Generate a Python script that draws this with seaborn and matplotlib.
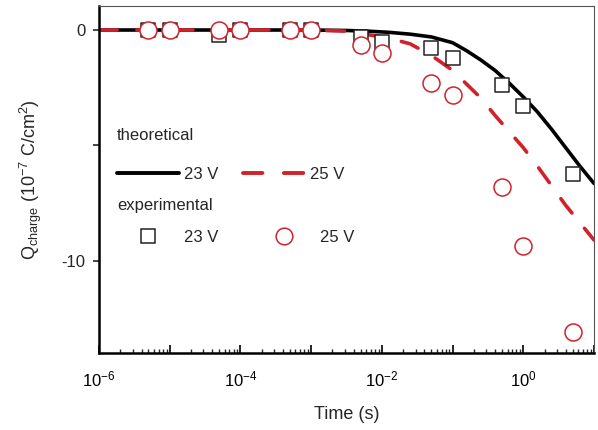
import numpy as np
import pandas as pd
import matplotlib
matplotlib.use("Agg")
import matplotlib.pyplot as plt
import matplotlib.ticker as mticker
from matplotlib.lines import Line2D
import seaborn as sns

EXP_TIME = [5e-6, 1e-5, 5e-5, 1e-4, 5e-4, 1e-3, 5e-3, 1e-2, 5e-2, 1e-1, 0.5, 1.0, 5.0]
EXP_23V = [0.0, 0.0, -0.2, 0.0, 0.0, 0.0, -0.3, -0.5, -0.8, -1.2, -2.4, -3.3, -6.25]
EXP_25V = [0.0, 0.0, 0.0, 0.0, 0.0, 0.0, -0.65, -1.0, -2.3, -2.8, -6.8, -9.35, -13.1]

# Theoretical curves
TH_LOGT = [-6.0, -3.0, -2.5, -2.2, -1.9, -1.6, -1.3, -1.0, -0.8, -0.6, -0.4,
           -0.2, 0.0, 0.2, 0.4, 0.6, 0.8, 1.0]
TH_23V = [0.0, 0.0, -0.02, -0.05, -0.1, -0.18, -0.3, -0.55, -0.9, -1.3, -1.75,
          -2.3, -2.9, -3.55, -4.3, -5.1, -5.9, -6.65]
TH_25V = [0.0, 0.0, -0.05, -0.2, -0.35, -0.6, -1.1, -1.75, -2.35, -2.95, -3.7,
          -4.4, -5.1, -5.9, -6.75, -7.6, -8.35, -9.1]

RED = "#d1222b"
DASH = (0, (5, 5.5))

sns.set_theme(style="ticks")
plt.rcParams["font.family"] = ["Liberation Sans", "DejaVu Sans"]
plt.rcParams["mathtext.fontset"] = "custom"
plt.rcParams["mathtext.rm"] = "Liberation Sans"
plt.rcParams["mathtext.it"] = "Liberation Sans:italic"
plt.rcParams["axes.unicode_minus"] = False

th = pd.DataFrame({"t": np.power(10.0, TH_LOGT), "q23": TH_23V, "q25": TH_25V})
ex = pd.DataFrame({"t": EXP_TIME, "q23": EXP_23V, "q25": EXP_25V})

fig = plt.figure(figsize=(5.98, 4.30), dpi=100)
ax = fig.add_axes([0.1656, 0.179, 0.8277, 0.807])

sns.lineplot(data=th, x="t", y="q23", ax=ax, color="black", linewidth=2.6,
             estimator=None, sort=True, zorder=2)
sns.lineplot(data=th, x="t", y="q25", ax=ax, color=RED, linewidth=2.6,
             estimator=None, sort=True, linestyle=DASH,
             dash_capstyle="round", zorder=2)
sns.scatterplot(data=ex, x="t", y="q23", ax=ax, marker="s", s=112,
                facecolor="white", edgecolor="#222222", linewidth=1.1, zorder=3)
sns.scatterplot(data=ex, x="t", y="q25", ax=ax, marker="o", s=150,
                facecolor="white", edgecolor=RED, linewidth=1.1, zorder=4)

ax.set_xscale("log")
ax.set_xlim(1e-6, 10)
ax.set_ylim(-14, 1.04)

ax.xaxis.set_major_locator(mticker.LogLocator(base=10, numticks=20))
ax.xaxis.set_minor_locator(mticker.LogLocator(base=10, subs=np.arange(2, 10), numticks=100))


def fmt_x(v, pos):
    e = int(round(np.log10(v)))
    if e % 2 == 0:
        return r"10$^{\mathregular{%d}}$" % e
    return ""


ax.xaxis.set_major_formatter(mticker.FuncFormatter(fmt_x))
ax.xaxis.set_minor_formatter(mticker.NullFormatter())
ax.set_yticks([0, -5, -10])
ax.set_yticklabels(["0", "", "-10"])

ax.tick_params(axis="x", which="major", direction="in", length=6, width=1.2,
               labelsize=12, pad=11.5, colors="black")
ax.tick_params(axis="x", which="minor", direction="in", length=3, width=1.0)
ax.tick_params(axis="y", which="major", direction="out", length=4, width=1.2,
               labelsize=12, pad=6)

for side in ["left", "bottom"]:
    ax.spines[side].set_color("black")
    ax.spines[side].set_linewidth(1.8)
for side in ["top", "right"]:
    ax.spines[side].set_visible(True)
    ax.spines[side].set_color("#555555")
    ax.spines[side].set_linewidth(0.8)

ax.set_xlabel("Time (s)", fontsize=13, labelpad=12)
ax.set_ylabel(r"Q$_{\mathregular{charge}}$ (10$^{\mathregular{-7}}$ C/cm$^{\mathregular{2}}$)",
              fontsize=13, labelpad=12)

# legends: theoretical and experimental groups
h_th = [Line2D([], [], color="black", linewidth=2.8),
        Line2D([], [], color=RED, linewidth=2.8, linestyle=DASH,
               dash_capstyle="round")]
leg1 = ax.legend(h_th, ["23 V", "25 V"], title="theoretical", ncol=2,
                 loc="upper left", bbox_to_anchor=(0.036, 0.648), frameon=False,
                 fontsize=12, title_fontsize=12, handlelength=3.7,
                 handletextpad=0.3, columnspacing=1.5, borderpad=0,
                 labelspacing=1.4, borderaxespad=0, alignment="left")
ax.add_artist(leg1)

h_ex = [Line2D([], [], linestyle="none", marker="s", markersize=10.6,
               markerfacecolor="white", markeredgecolor="#222222", markeredgewidth=1.1),
        Line2D([], [], linestyle="none", marker="o", markersize=12,
               markerfacecolor="white", markeredgecolor=RED, markeredgewidth=1.1)]
ax.legend(h_ex, ["23 V", "25 V"], title="experimental", ncol=2,
          loc="upper left", bbox_to_anchor=(0.036, 0.448), frameon=False,
          fontsize=12, title_fontsize=12, handlelength=3.7,
          handletextpad=0.3, columnspacing=2.1, borderpad=0,
          labelspacing=1.05, borderaxespad=0, alignment="left")

fig.savefig("out.png", dpi=100)
